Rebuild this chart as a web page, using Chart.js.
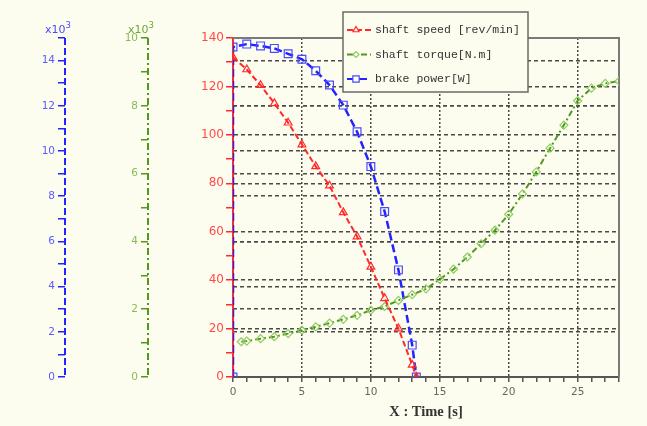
<!DOCTYPE html>
<html>
<head>
<meta charset="utf-8">
<script src="https://cdn.jsdelivr.net/npm/chart.js@4/dist/chart.umd.min.js"></script>
<style>
html, body { margin: 0; background: #fdfdef; }
#wrap { width: 647px; height: 426px; }
</style>
</head>
<body>
<div id="wrap"><canvas id="grafico"></canvas></div>
<script>
// shaft speed [rev/min]
const tiempoVel = [0, 1, 2, 3, 4, 5, 6, 7, 8, 9, 10, 11, 12, 13, 13.3];
const velocidad = [132, 127, 120.5, 113, 105, 96, 87, 79, 68, 58, 45.5, 32.5, 20, 5, 0];

// shaft torque [N.m]
const tiempoPar = [0.6, 1, 2, 3, 4, 5, 6, 7, 8, 9, 10, 11, 12, 13, 14, 15, 16, 17, 18, 19, 20, 21, 22, 23, 24, 25, 26, 27, 28];
const torque = [1040, 1060, 1130, 1190, 1280, 1380, 1480, 1590, 1700, 1820, 1970, 2080, 2260, 2430, 2600, 2880, 3180, 3540, 3930, 4330, 4800, 5400, 6050, 6750, 7430, 8150, 8520, 8660, 8730];

// brake power [W]
const tiempoPot = [0, 0, 1, 2, 3, 4, 5, 6, 7, 8, 9, 10, 11, 12, 13, 13.3];
const potencia = [0, 14600, 14730, 14650, 14540, 14300, 14060, 13550, 12920, 12030, 10850, 9310, 7320, 4740, 1410, 0];

const etiquetas = ['shaft speed [rev/min]', 'shaft torque[N.m]', 'brake power[W]'];
const tituloX = 'X : Time [s]';

const ROJO = '#ff2a2a', VERDE = '#4f9a1c', AZUL = '#2323ff';
const GRILLA = '#4a4a4a';
const FONDO = '#fdfdef';

const pares = (xs, ys) => xs.map((x, i) => ({ x: x, y: ys[i] }));

// marco, lineas de eje discontinuas, x10^3 y leyenda
const extras = {
    id: 'extras',
    beforeDatasetsDraw(chart) {
        const { ctx, chartArea: a } = chart;
        ctx.save();
        ctx.strokeStyle = '#7a7a7a';
        ctx.lineWidth = 2;
        ctx.beginPath();
        ctx.moveTo(a.left, a.top);
        ctx.lineTo(a.right, a.top);
        ctx.lineTo(a.right, a.bottom);
        ctx.stroke();
        ctx.restore();
    },
    afterDraw(chart) {
        const { ctx } = chart;
        const ejes = [
            { s: chart.scales.yP, color: AZUL, dash: [7, 3], txt: '#4a4aff' },
            { s: chart.scales.yT, color: VERDE, dash: [7, 3, 2, 3], txt: '#6aaa30' }
        ];
        ejes.forEach(e => {
            ctx.save();
            ctx.strokeStyle = e.color;
            ctx.lineWidth = 2;
            ctx.setLineDash(e.dash);
            ctx.beginPath();
            ctx.moveTo(e.s.right, e.s.top);
            ctx.lineTo(e.s.right, e.s.bottom);
            ctx.stroke();
            ctx.setLineDash([]);
            ctx.fillStyle = e.txt;
            ctx.textBaseline = 'alphabetic';
            ctx.font = '11px "DejaVu Sans"';
            const w = ctx.measureText('x10').width;
            const x0 = e.s.right - 20;
            ctx.fillText('x10', x0, e.s.top - 5);
            ctx.font = '8.5px "DejaVu Sans"';
            ctx.fillText('3', x0 + w, e.s.top - 10);
            ctx.restore();
        });

        // leyenda
        const ds = chart.data.datasets;
        const bx = 343, by = 12, bw = 185, bh = 80;
        ctx.save();
        ctx.fillStyle = FONDO;
        ctx.fillRect(bx, by, bw, bh);
        ctx.strokeStyle = '#6a6a6a';
        ctx.lineWidth = 1.5;
        ctx.strokeRect(bx, by, bw, bh);
        ds.forEach((d, i) => {
            const y = by + 18 + i * 24.5;
            ctx.strokeStyle = d.borderColor;
            ctx.lineWidth = 2;
            ctx.setLineDash(d.borderDash);
            ctx.beginPath();
            ctx.moveTo(bx + 4, y);
            ctx.lineTo(bx + 28, y);
            ctx.stroke();
            ctx.setLineDash([]);
            ctx.fillStyle = FONDO;
            ctx.lineWidth = 1.2;
            ctx.strokeStyle = d.pointBorderColor;
            Chart.helpers.drawPoint(ctx, { pointStyle: d.pointStyle, radius: d.pointRadius - 1, rotation: 0, borderWidth: 1.2 }, bx + 13, y);
            ctx.fillStyle = '#333';
            ctx.font = '11.5px "Liberation Mono"';
            ctx.textBaseline = 'middle';
            ctx.fillText(d.label, bx + 32, y);
        });
        ctx.restore();
    }
};

const ancho = w => ({ afterFit(scale) { scale.width = w; } });

new Chart(document.getElementById('grafico'), {
    type: 'line',
    data: {
        datasets: [
            {
                label: etiquetas[0],
                data: pares(tiempoVel, velocidad),
                yAxisID: 'yV',
                borderColor: ROJO,
                borderWidth: 2,
                borderDash: [6, 3],
                pointStyle: 'triangle',
                pointRadius: 4.5,
                pointBorderColor: ROJO,
                pointBackgroundColor: 'rgba(0,0,0,0)',
                pointBorderWidth: 1.2,
                tension: 0
            },
            {
                label: etiquetas[1],
                data: pares(tiempoPar, torque),
                yAxisID: 'yT',
                borderColor: VERDE,
                borderWidth: 2,
                borderDash: [6, 3, 2, 3],
                pointStyle: 'rectRot',
                pointRadius: 4,
                pointBorderColor: '#8fcc60',
                pointBackgroundColor: 'rgba(0,0,0,0)',
                pointBorderWidth: 1.2,
                tension: 0
            },
            {
                label: etiquetas[2],
                data: pares(tiempoPot, potencia),
                yAxisID: 'yP',
                borderColor: AZUL,
                borderWidth: 2.5,
                borderDash: [8, 4],
                pointStyle: 'rect',
                pointRadius: 5.5,
                pointBorderColor: '#4a4aff',
                pointBackgroundColor: 'rgba(0,0,0,0)',
                pointBorderWidth: 1.2,
                tension: 0
            }
        ]
    },
    options: {
        responsive: true,
        maintainAspectRatio: false,
        animation: false,
        layout: { padding: { top: 38, right: 28, left: 0, bottom: 0 } },
        plugins: { legend: { display: false }, tooltip: { enabled: false } },
        scales: {
            x: {
                type: 'linear',
                min: 0, max: 28,
                afterFit(scale) { scale.height = 49; },
                ticks: {
                    stepSize: 1, autoSkip: false, maxRotation: 0, padding: 4,
                    color: '#666', font: { family: 'DejaVu Sans', size: 10.5 },
                    callback: v => (v % 5 === 0 ? v : '')
                },
                grid: {
                    color: c => (c.tick && c.tick.value % 5 === 0 && c.tick.value > 0 && c.tick.value < 28 ? GRILLA : 'rgba(0,0,0,0)'),
                    tickColor: '#555', tickLength: 5, lineWidth: 1.5
                },
                border: { color: '#555', width: 2, dash: [2, 2] },
                title: {
                    display: true, text: tituloX, color: '#333',
                    font: { family: 'Liberation Serif', size: 14.5, weight: 'bold' },
                    padding: { top: 0, bottom: 5 }
                }
            },
            yV: {
                type: 'linear', position: 'left', weight: 1,
                min: 0, max: 140,
                ...ancho(85),
                ticks: {
                    stepSize: 10, autoSkip: false, padding: 2,
                    color: '#ff4a4a', font: { family: 'DejaVu Sans', size: 12 },
                    callback: v => (v % 20 === 0 ? v : '')
                },
                grid: {
                    color: c => (c.tick && c.tick.value % 20 === 0 && c.tick.value > 0 && c.tick.value < 140 ? GRILLA : 'rgba(0,0,0,0)'),
                    tickColor: ROJO, tickLength: 7, lineWidth: 1.5
                },
                border: { color: ROJO, width: 2, dash: [4, 3] }
            },
            yT: {
                type: 'linear', position: 'left', weight: 2,
                min: 0, max: 10000,
                ...ancho(83),
                ticks: {
                    stepSize: 1000, autoSkip: false, padding: 3,
                    color: '#88bb55', font: { family: 'DejaVu Sans', size: 10.5 },
                    callback: v => (v % 2000 === 0 ? v / 1000 : '')
                },
                grid: {
                    color: c => (c.tick && c.tick.value % 2000 === 0 && c.tick.value > 0 && c.tick.value < 10000 ? GRILLA : 'rgba(0,0,0,0)'),
                    tickColor: VERDE, tickLength: 7, lineWidth: 1.5
                },
                border: { display: false, dash: [4, 3] }
            },
            yP: {
                type: 'linear', position: 'left', weight: 3,
                min: 0, max: 15000,
                ...ancho(65),
                ticks: {
                    stepSize: 1000, autoSkip: false, padding: 3,
                    color: '#5a5aff', font: { family: 'DejaVu Sans', size: 10.5 },
                    callback: v => (v % 2000 === 0 ? v / 1000 : '')
                },
                grid: {
                    color: c => (c.tick && c.tick.value % 2000 === 0 && c.tick.value > 0 && c.tick.value < 15000 ? GRILLA : 'rgba(0,0,0,0)'),
                    tickColor: AZUL, tickLength: 7, lineWidth: 1.5
                },
                border: { display: false, dash: [4, 3] }
            }
        }
    },
    plugins: [extras]
});
</script>
</body>
</html>
